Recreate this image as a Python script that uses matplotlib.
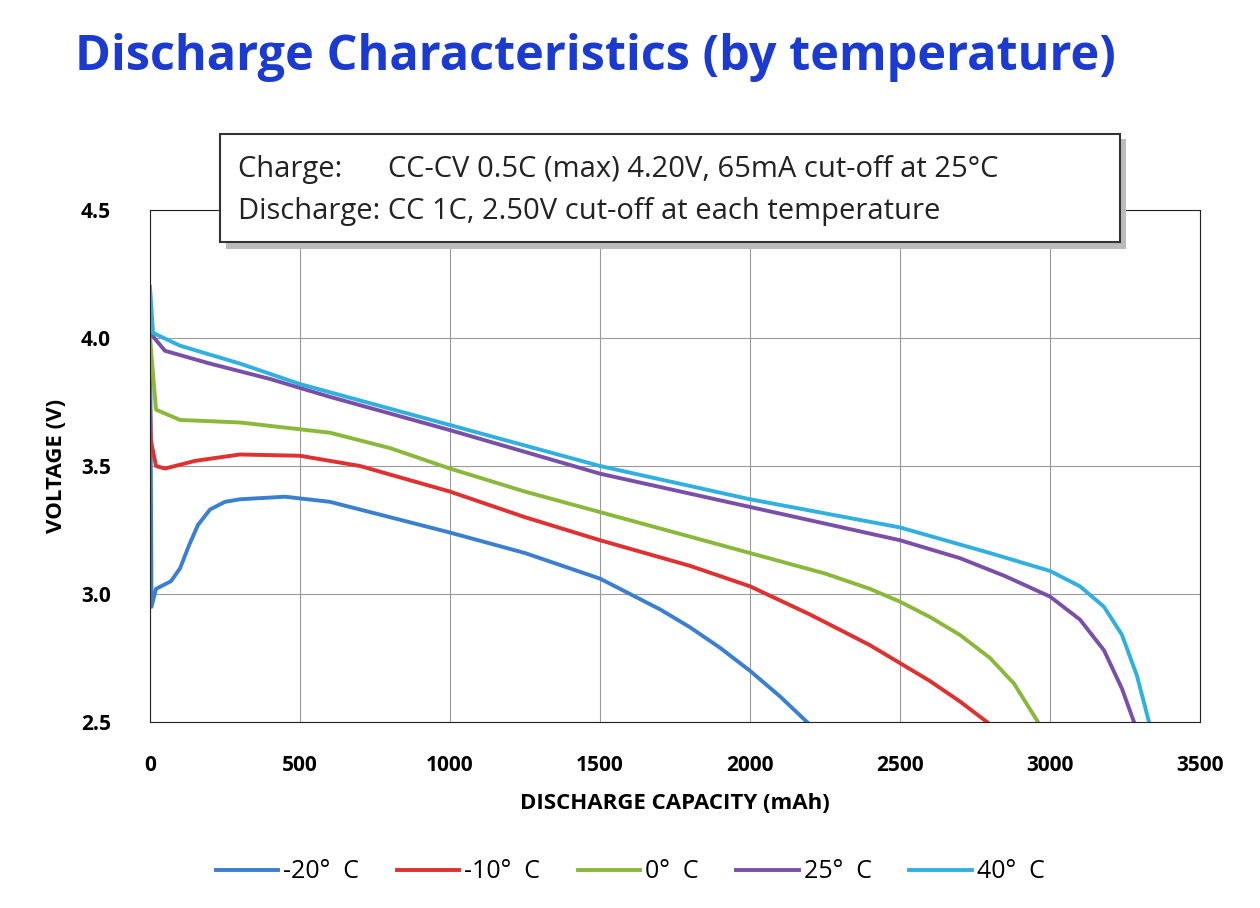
import matplotlib
matplotlib.use("Agg")
import matplotlib.pyplot as plt
from matplotlib.patches import Rectangle

x_m20 = [0, 5, 20, 70, 100, 130, 160, 200, 250, 300, 450, 600, 800, 1000, 1250, 1500, 1600, 1700, 1800, 1900, 2000, 2100, 2190]
y_m20 = [4.15, 2.95, 3.02, 3.05, 3.1, 3.19, 3.27, 3.33, 3.36, 3.37, 3.38, 3.36, 3.3, 3.24, 3.16, 3.06, 3.0, 2.94, 2.87, 2.79, 2.7, 2.6, 2.5]
x_m10 = [0, 3, 20, 50, 100, 150, 300, 500, 700, 1000, 1250, 1500, 1800, 2000, 2200, 2400, 2500, 2600, 2700, 2790]
y_m10 = [3.75, 3.6, 3.5, 3.49, 3.505, 3.52, 3.545, 3.54, 3.5, 3.4, 3.3, 3.21, 3.11, 3.03, 2.92, 2.8, 2.73, 2.66, 2.58, 2.5]
x_0 = [0, 20, 100, 300, 600, 800, 1000, 1250, 1500, 1750, 2000, 2250, 2400, 2500, 2600, 2700, 2800, 2880, 2960]
y_0 = [4.0, 3.72, 3.68, 3.67, 3.63, 3.57, 3.49, 3.4, 3.32, 3.24, 3.16, 3.08, 3.02, 2.97, 2.91, 2.84, 2.75, 2.65, 2.5]
x_25 = [0, 50, 200, 400, 600, 1000, 1500, 2000, 2500, 2700, 2850, 3000, 3100, 3180, 3240, 3280]
y_25 = [4.02, 3.95, 3.9, 3.84, 3.77, 3.64, 3.47, 3.34, 3.21, 3.14, 3.07, 2.99, 2.9, 2.78, 2.63, 2.5]
x_40 = [0, 10, 100, 300, 500, 1000, 1500, 2000, 2500, 2800, 3000, 3100, 3180, 3240, 3290, 3330]
y_40 = [4.2, 4.02, 3.97, 3.9, 3.82, 3.66, 3.5, 3.37, 3.26, 3.16, 3.09, 3.03, 2.95, 2.84, 2.68, 2.5]
labels = ["-20°  C", "-10°  C", "0°  C", "25°  C", "40°  C"]
colors = ["#3a7fd0", "#e03030", "#8ab83a", "#7a4fa8", "#30b0e0"]

plt.rcParams["font.family"] = "Open Sans"
fig = plt.figure(figsize=(12.6, 9.08), dpi=100)
ax = fig.add_axes([150/1260, 1-722/908, 1050/1260, 512/908])
for xs, ys, lab, c in zip([x_m20, x_m10, x_0, x_25, x_40], [y_m20, y_m10, y_0, y_25, y_40], labels, colors):
    ax.plot(xs, ys, color=c, lw=2.8, label=lab, solid_joinstyle="round")
ax.set_xlim(0, 3500)
ax.set_ylim(2.5, 4.5)
ax.set_xticks(range(0, 3501, 500))
ax.set_yticks([2.5, 3.0, 3.5, 4.0, 4.5])
ax.set_yticklabels(["2.5", "3.0", "3.5", "4.0", "4.5"])
ax.grid(True, color="#999999", lw=0.8)
ax.tick_params(labelsize=15, length=0)
ax.tick_params(axis="x", pad=24)
ax.tick_params(axis="y", pad=28)
for lab in ax.get_xticklabels() + ax.get_yticklabels():
    lab.set_fontweight("bold")
for s in ax.spines.values():
    s.set_color("#222222")
ax.set_xlabel("DISCHARGE CAPACITY (mAh)", fontsize=16, fontweight="bold", labelpad=12)
ax.set_ylabel("VOLTAGE (V)", fontsize=16, fontweight="bold", labelpad=10)
fig.text(75/1260, 1-57/908, "Discharge Characteristics (by temperature)", fontsize=35,
         fontweight="bold", color="#1a3ad0", va="center")
fig.patches.append(Rectangle((226/1260, 1-249/908), 900/1260, 110/908, transform=fig.transFigure,
                             facecolor="#bbbbbb", edgecolor="none", zorder=5))
fig.patches.append(Rectangle((220/1260, 1-242/908), 900/1260, 108/908, transform=fig.transFigure,
                             facecolor="white", edgecolor="#333333", lw=1.5, zorder=6))
fig.text(238/1260, 1-170/908, "Charge:      CC-CV 0.5C (max) 4.20V, 65mA cut-off at 25°C", fontsize=21, va="center", zorder=7, color="#222222")
fig.text(238/1260, 1-212/908, "Discharge: CC 1C, 2.50V cut-off at each temperature", fontsize=21, va="center", zorder=7, color="#222222")
fig.legend(loc="center", bbox_to_anchor=(0.5, 1-872/908), ncol=5, frameon=False, fontsize=18,
           handlelength=2.5, columnspacing=1.5, handletextpad=0.2)
fig.savefig("out.png", dpi=100, facecolor="white")
